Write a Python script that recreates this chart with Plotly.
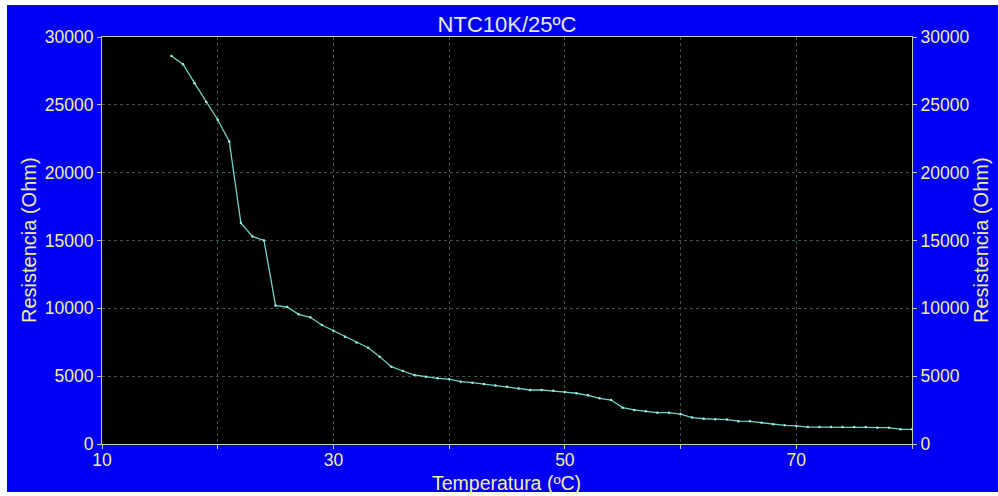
import plotly.graph_objects as go

temperatura = list(range(16, 81))
resistencia = [28600, 28000, 26600, 25200, 23900, 22300, 16300, 15300, 15000, 10200,
               10100, 9560, 9340, 8770, 8350, 7910, 7490, 7100, 6440, 5700,
               5380, 5085, 4960, 4840, 4780, 4590, 4520, 4420, 4320, 4220,
               4100, 3980, 3980, 3930, 3830, 3740, 3590, 3370, 3240, 2680,
               2510, 2410, 2310, 2310, 2210, 1950, 1860, 1830, 1800, 1680,
               1670, 1570, 1450, 1380, 1330, 1250, 1250, 1250, 1250, 1250,
               1250, 1200, 1200, 1080, 1080]
x_tickvals = [10, 20, 30, 40, 50, 60, 70, 80]
x_ticktext = ["10", "", "30", "", "50", "", "70", ""]
y_tickvals = [0, 5000, 10000, 15000, 20000, 25000, 30000]
y_ticktext = ["0", "5000", "10000", "15000", "20000", "25000", "30000"]

TXT = "#f2eea0"
AX = "#c8c8c8"
GRID = "#3c524e"
LINE = "#70d4c4"
FONT = "Liberation Sans, Arial, sans-serif"

fig = go.Figure()
fig.add_trace(go.Scatter(x=temperatura, y=resistencia, mode="lines+markers",
                         line=dict(color=LINE, width=1.3),
                         marker=dict(color="#a0ece0", size=2.5),
                         showlegend=False))
fig.add_trace(go.Scatter(x=temperatura, y=resistencia, mode="lines", yaxis="y2",
                         line=dict(color=LINE, width=0), opacity=0,
                         hoverinfo="skip", showlegend=False))

W, H = 998, 496
L, R, T, B = 102, 86, 37, 52
pw, ph = W - L - R, H - T - B

def px(x):
    return (x - L) / pw

def py(y):
    return (H - B - y) / ph

fig.add_shape(type="rect", xref="paper", yref="paper", layer="below",
              x0=px(7), x1=px(999), y0=py(492), y1=py(5),
              fillcolor="#0000f6", line=dict(width=0))
fig.add_shape(type="rect", xref="paper", yref="paper", layer="below",
              x0=0, x1=1, y0=0, y1=1,
              fillcolor="black", line=dict(width=0))

ytitle = "Resistencia (Ohm)"
fig.add_annotation(text="Temperatura (ºC)", xref="paper", yref="paper",
                   x=px(506), y=py(483), xanchor="center", yanchor="middle",
                   showarrow=False, font=dict(size=19.5, color=TXT))
fig.add_annotation(text=ytitle, xref="paper", yref="paper", textangle=-90,
                   x=px(29), y=py(240), xanchor="center", yanchor="middle",
                   showarrow=False, font=dict(size=20, color=TXT))
fig.add_annotation(text=ytitle, xref="paper", yref="paper", textangle=-90,
                   x=px(981), y=py(240), xanchor="center", yanchor="middle",
                   showarrow=False, font=dict(size=20, color=TXT))

common = dict(showline=True, linecolor=AX, linewidth=1, ticks="outside", ticklen=4,
              tickcolor=AX, zeroline=False, automargin=False,
              tickfont=dict(size=17.5, color=TXT))

fig.update_layout(
    width=W, height=H,
    margin=dict(l=L, r=R, t=T, b=B),
    paper_bgcolor="white", plot_bgcolor="black",
    font=dict(family=FONT, size=17.5, color=TXT),
    title=dict(text="NTC10K/25ºC", x=0.5, xanchor="center", xref="paper",
               y=1 - 24 / H, yanchor="middle",
               font=dict(size=22, color="#e8e8e8")),
    xaxis=dict(range=[10, 80], tickvals=x_tickvals, ticktext=x_ticktext,
               showgrid=True, gridcolor=GRID, griddash="dot", gridwidth=1,
               mirror=True, ticklabelstandoff=-4, **common),
    yaxis=dict(range=[0, 30000], tickvals=y_tickvals, ticktext=y_ticktext,
               showgrid=True, gridcolor=GRID, griddash="dot", gridwidth=1,
               **common),
    yaxis2=dict(range=[0, 30000], tickvals=y_tickvals, ticktext=y_ticktext,
                overlaying="y", side="right", showgrid=False, **common),
)

fig.write_html("out.html")
